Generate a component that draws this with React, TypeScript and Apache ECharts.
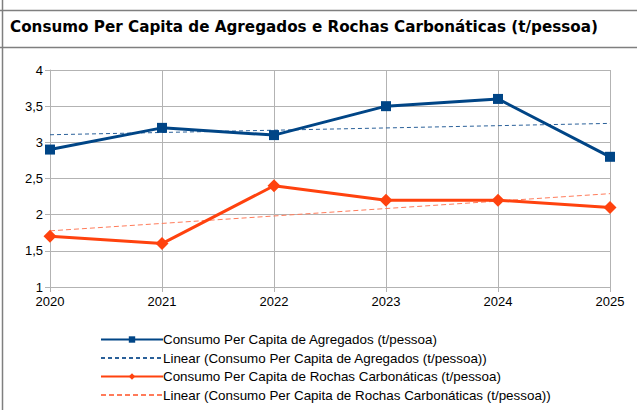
import React, { useEffect, useRef } from "react";
import * as echarts from "echarts";

const years = ["2020", "2021", "2022", "2023", "2024", "2025"];
const agregados = [2.9, 3.2, 3.1, 3.5, 3.6, 2.8];
const rochas = [1.7, 1.6, 2.4, 2.2, 2.2, 2.1];
const nameAgr = "Consumo Per Capita de Agregados (t/pessoa)";
const nameRoc = "Consumo Per Capita de Rochas Carbonáticas (t/pessoa)";
const titleText = "Consumo Per Capita de Agregados e Rochas Carbonáticas (t/pessoa)";

function linearTrend(vals: number[]): number[] {
  const n = vals.length;
  const mx = (n - 1) / 2;
  const my = vals.reduce((a, b) => a + b, 0) / n;
  let num = 0, den = 0;
  vals.forEach((v, i) => { num += (i - mx) * (v - my); den += (i - mx) * (i - mx); });
  const slope = num / den;
  return vals.map((_, i) => +(my + slope * (i - mx)).toFixed(4));
}

export default function App() {
  const ref = useRef<HTMLDivElement>(null);
  useEffect(() => {
    if (!ref.current) return;
    const chart = echarts.init(ref.current, null, { renderer: "svg" });
    const font = "Liberation Sans";
    const trendAgr = "Linear (" + nameAgr + ")";
    const trendRoc = "Linear (" + nameRoc + ")";
    chart.setOption({
      animation: false,
      backgroundColor: "#ffffff",
      textStyle: { fontFamily: font },
      graphic: [
        { type: "line", shape: { x1: 0, y1: 10.5, x2: 637, y2: 10.5 }, style: { stroke: "#7f7f7f", lineWidth: 1.5 } },
        { type: "line", shape: { x1: 0, y1: 47.5, x2: 637, y2: 47.5 }, style: { stroke: "#7f7f7f", lineWidth: 1.5 } },
        { type: "line", shape: { x1: 2.5, y1: 0, x2: 2.5, y2: 410 }, style: { stroke: "#7f7f7f", lineWidth: 1.5 } },
        {
          type: "text", left: 10, top: 19,
          style: { text: titleText, font: "bold 15.2px 'DejaVu Sans'", fill: "#000" },
        },
      ],
      grid: { left: 50, right: 27, top: 70, height: 217 },
      xAxis: {
        type: "category",
        data: years,
        boundaryGap: false,
        axisLine: { lineStyle: { color: "#b3b3b3" } },
        axisTick: { show: true, length: 5, lineStyle: { color: "#b3b3b3" } },
        axisLabel: { color: "#000", fontSize: 13, margin: 8, fontFamily: font },
        splitLine: { show: true, lineStyle: { color: "#b3b3b3" } },
      },
      yAxis: {
        type: "value",
        min: 1,
        max: 4,
        interval: 0.5,
        axisLine: { show: true, lineStyle: { color: "#b3b3b3" } },
        axisTick: { show: true, length: 5, lineStyle: { color: "#b3b3b3" } },
        axisLabel: {
          color: "#000", fontSize: 13, margin: 7, fontFamily: font,
          formatter: (v: number) => String(v).replace(".", ","),
        },
        splitLine: { show: true, lineStyle: { color: "#b3b3b3" } },
      },
      legend: {
        orient: "vertical",
        left: 95,
        top: 328,
        itemWidth: 62,
        itemHeight: 8,
        itemGap: 5.5,
        textStyle: { color: "#000", fontSize: 13.4, fontFamily: font, padding: [0, 0, 0, -5] },
        data: [
          { name: nameAgr },
          { name: trendAgr, itemStyle: { opacity: 0 } },
          { name: nameRoc },
          { name: trendRoc, itemStyle: { opacity: 0 } },
        ],
      },
      series: [
        {
          name: nameAgr, type: "line", data: agregados,
          symbol: "rect", symbolSize: 10,
          lineStyle: { color: "#004586", width: 3 },
          itemStyle: { color: "#004586" },
          z: 5,
        },
        {
          name: trendAgr, type: "line", data: linearTrend(agregados),
          symbol: "none",
          lineStyle: { color: "#2a6099", width: 1, type: [4, 3] },
          itemStyle: { color: "#2a6099" },
          z: 4,
        },
        {
          name: nameRoc, type: "line", data: rochas,
          symbol: "diamond", symbolSize: 13,
          lineStyle: { color: "#ff420e", width: 3 },
          itemStyle: { color: "#ff420e" },
          z: 5,
        },
        {
          name: trendRoc, type: "line", data: linearTrend(rochas),
          symbol: "none",
          lineStyle: { color: "#ff7b5a", width: 1, type: [5, 3] },
          itemStyle: { color: "#ff7b5a" },
          z: 4,
        },
      ],
    });
    return () => chart.dispose();
  }, []);
  return (
    <div
      ref={ref}
      style={{ position: "fixed", left: 0, top: 0, width: 637, height: 410 }}
    />
  );
}
